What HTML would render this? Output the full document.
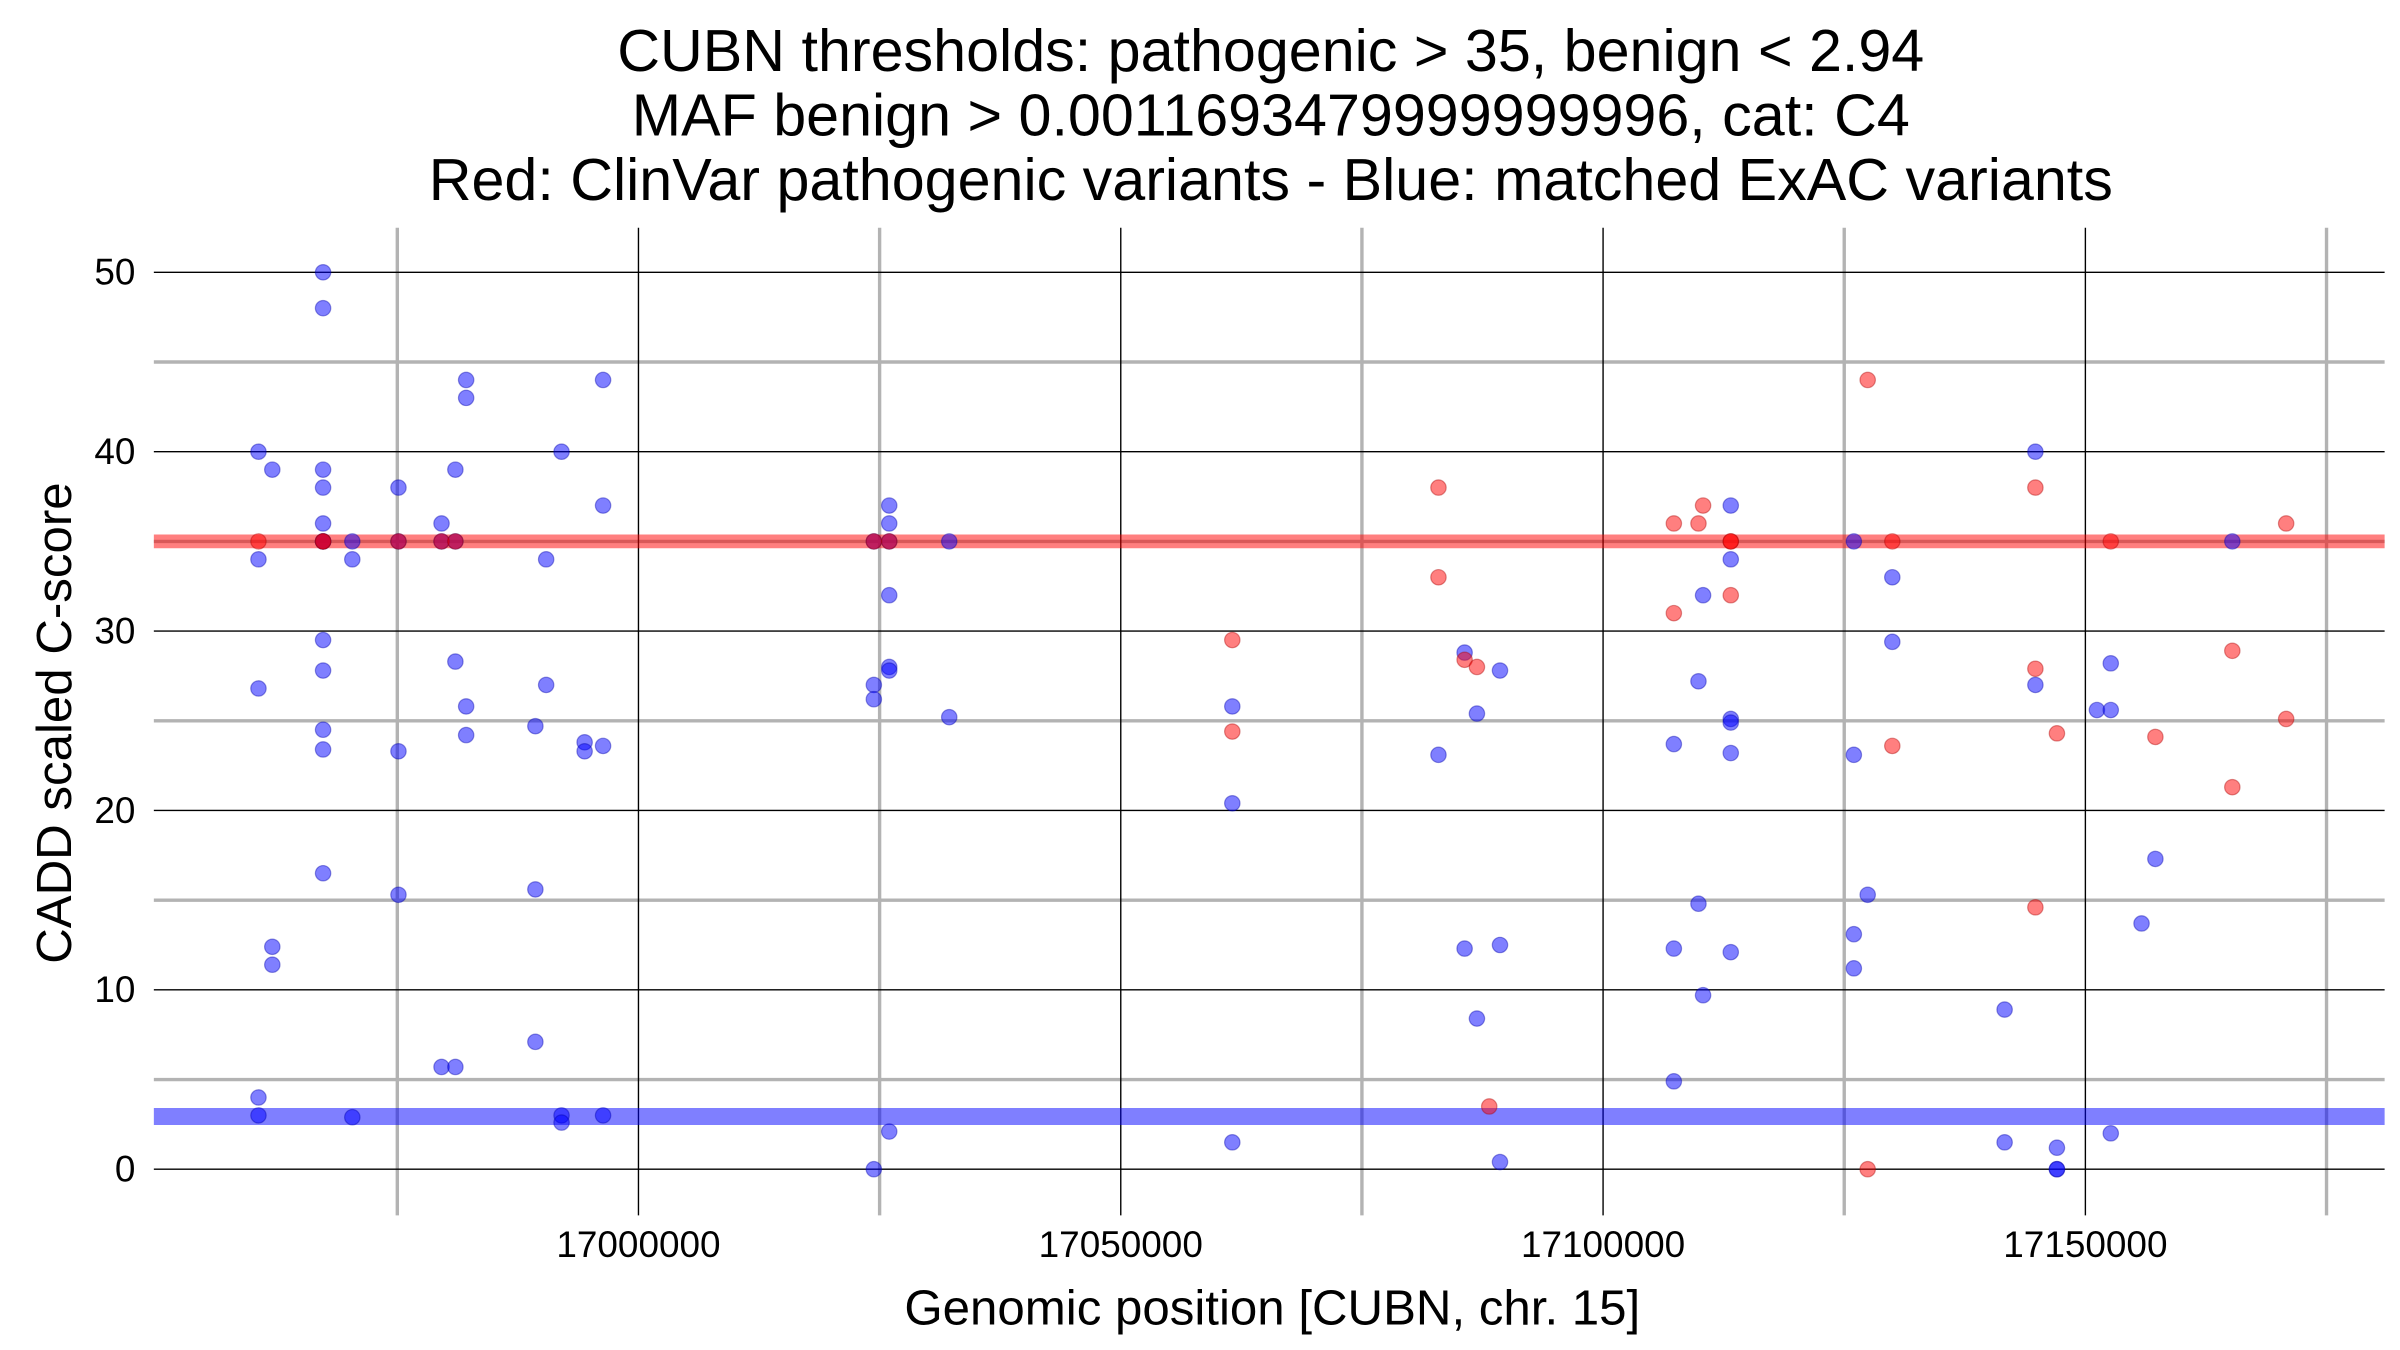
<!DOCTYPE html>
<html><head><meta charset="utf-8"><style>
html,body{margin:0;padding:0;background:#fff;}
svg{display:block;font-family:"Liberation Sans",Arial,sans-serif;}
</style></head><body>
<svg id="chart" width="2400" height="1350" viewBox="0 0 1560 877.5" xmlns="http://www.w3.org/2000/svg">
<rect width="1560" height="877.5" fill="#fff"/>
<g font-size="38.5" text-anchor="middle" fill="#000">
<text x="826" y="46">CUBN thresholds: pathogenic &gt; 35, benign &lt; 2.94</text>
<text x="826" y="88">MAF benign &gt; 0.0011693479999999996, cat: C4</text>
<text x="826" y="130">Red: ClinVar pathogenic variants - Blue: matched ExAC variants</text>
</g>
<g id="grid"></g>
<g id="marks"></g>
<g id="axes"></g>
<text x="827" y="861" font-size="32" text-anchor="middle">Genomic position [CUBN, chr. 15]</text>
<text transform="translate(46,470) rotate(-90)" font-size="32" text-anchor="middle">CADD scaled C-score</text>
</svg>
<script>
const blueX=[16960606,16960606,16960606,16960606,16960606,16962041,16962041,16962041,
16967305,16967305,16967305,16967305,16967305,16967305,16967305,16967305,16967305,16967305,16967305,16967305,
16970335,16970335,16970335,16975120,16975120,16975120,16975120,
16979585,16979585,16979585,16981020,16981020,16981020,16981020,16982137,16982137,16982137,16982137,
16989314,16989314,16989314,16990431,16990431,16992026,16992026,16992026,16994418,16994418,16996332,16996332,16996332,16996332,
17024402,17024402,17024402,17024402,17025997,17025997,17025997,17025997,17025997,17025997,17025997,17032217,17032217,
17061563,17061563,17061563,17082935,17085646,17085646,17086922,17086922,17089314,17089314,17089314,
17107337,17107337,17107337,17109889,17109889,17110367,17110367,17113238,17113238,17113238,17113238,17113238,17113238,
17125997,17125997,17125997,17125997,17127432,17129984,17129984,
17141627,17141627,17144817,17144817,17147050,17147050,17147050,17151197,17152632,17152632,17152632,17155822,17157257,17165232];
const blueY=[40,34,26.8,4,3,39,12.4,11.4,
50,48,39,38,36,35,35,29.5,27.8,24.5,23.4,16.5,
35,34,2.9,38,35,23.3,15.3,
36,35,5.7,39,35,28.3,5.7,44,43,25.8,24.2,
24.7,15.6,7.1,34,27,40,3,2.6,23.8,23.3,44,37,23.6,3,
35,27,26.2,0,37,36,35,32,28,27.8,2.1,35,25.2,
25.8,20.4,1.5,23.1,28.8,12.3,25.4,8.4,27.8,12.5,0.4,
23.7,12.3,4.9,27.2,14.8,32,9.7,37,34,25.1,24.9,23.2,12.1,
35,23.1,13.1,11.2,15.3,33,29.4,
8.9,1.5,40,27,1.2,0,0,25.6,28.2,25.6,2,13.7,17.3,35];
const redX=[16960606,16967305,16967305,16975120,16979585,16981020,17024402,17025997,
17061563,17061563,17082935,17082935,17085646,17086922,17088198,
17107337,17107337,17109889,17110367,17113238,17113238,17113238,
17127432,17127432,17129984,17129984,17144817,17144817,17144817,17147050,17152632,17157257,17165232,17165232,17170814,17170814];
const redY=[35,35,35,35,35,35,35,35,
29.5,24.4,38,33,28.4,28,3.5,
36,31,36,37,35,35,32,
44,0,35,23.6,38,27.9,14.6,24.3,35,24.1,28.9,21.3,36,25.1];
const xTicks=[17000000,17050000,17100000,17150000];
const xMinor=[16975000,17025000,17075000,17125000,17175000];
const yTicks=[0,10,20,30,40,50];
const yMinor=[5,15,25,35,45];
const pathThreshold=35, benignThreshold=2.94;

const NS="http://www.w3.org/2000/svg";
const L=100,R=1550,T=148,B=790;
const sx=v=>415+(v-17000000)*313.5/50000;
const sy=v=>760-v*11.66;
function mk(tag,attrs,parent){const e=document.createElementNS(NS,tag);for(const k in attrs)e.setAttribute(k,attrs[k]);parent.appendChild(e);return e;}
const grid=document.getElementById('grid'),marks=document.getElementById('marks'),axes=document.getElementById('axes');
yMinor.forEach(v=>{const e=mk('line',{x1:L,x2:R,y1:sy(v),y2:sy(v),stroke:'#b3b3b3','stroke-width':2.2},grid);

});
xMinor.forEach(v=>{const e=mk('line',{x1:sx(v),x2:sx(v),y1:T,y2:B,stroke:'#b3b3b3','stroke-width':2.2},grid);

});
yTicks.forEach(v=>{const e=mk('line',{x1:L,x2:R,y1:sy(v),y2:sy(v),stroke:'#000','stroke-width':0.9},grid);


const t=mk('text',{x:88,y:sy(v)+8,'font-size':24,'text-anchor':'end'},axes);t.textContent=v;

});
xTicks.forEach(v=>{const e=mk('line',{x1:sx(v),x2:sx(v),y1:T,y2:B,stroke:'#000','stroke-width':0.9},grid);


const t=mk('text',{x:sx(v),y:817,'font-size':24,'text-anchor':'middle'},axes);t.textContent=v;

});
const pl=mk('line',{x1:L,x2:R,y1:sy(pathThreshold),y2:sy(pathThreshold),stroke:'#ff0000','stroke-opacity':0.5,'stroke-width':9},marks);


const bl=mk('line',{x1:L,x2:R,y1:sy(benignThreshold),y2:sy(benignThreshold),stroke:'#0000ff','stroke-opacity':0.5,'stroke-width':11},marks);


blueX.forEach((x,i)=>{const c=mk('circle',{cx:sx(x),cy:sy(blueY[i]),r:5,fill:'#0000ff','fill-opacity':0.5,stroke:'#0000aa','stroke-opacity':0.4,'stroke-width':0.8},marks);

});
redX.forEach((x,i)=>{const c=mk('circle',{cx:sx(x),cy:sy(redY[i]),r:5,fill:'#ff0000','fill-opacity':0.5,stroke:'#aa0000','stroke-opacity':0.4,'stroke-width':0.8},marks);

});
</script>
</body></html>
